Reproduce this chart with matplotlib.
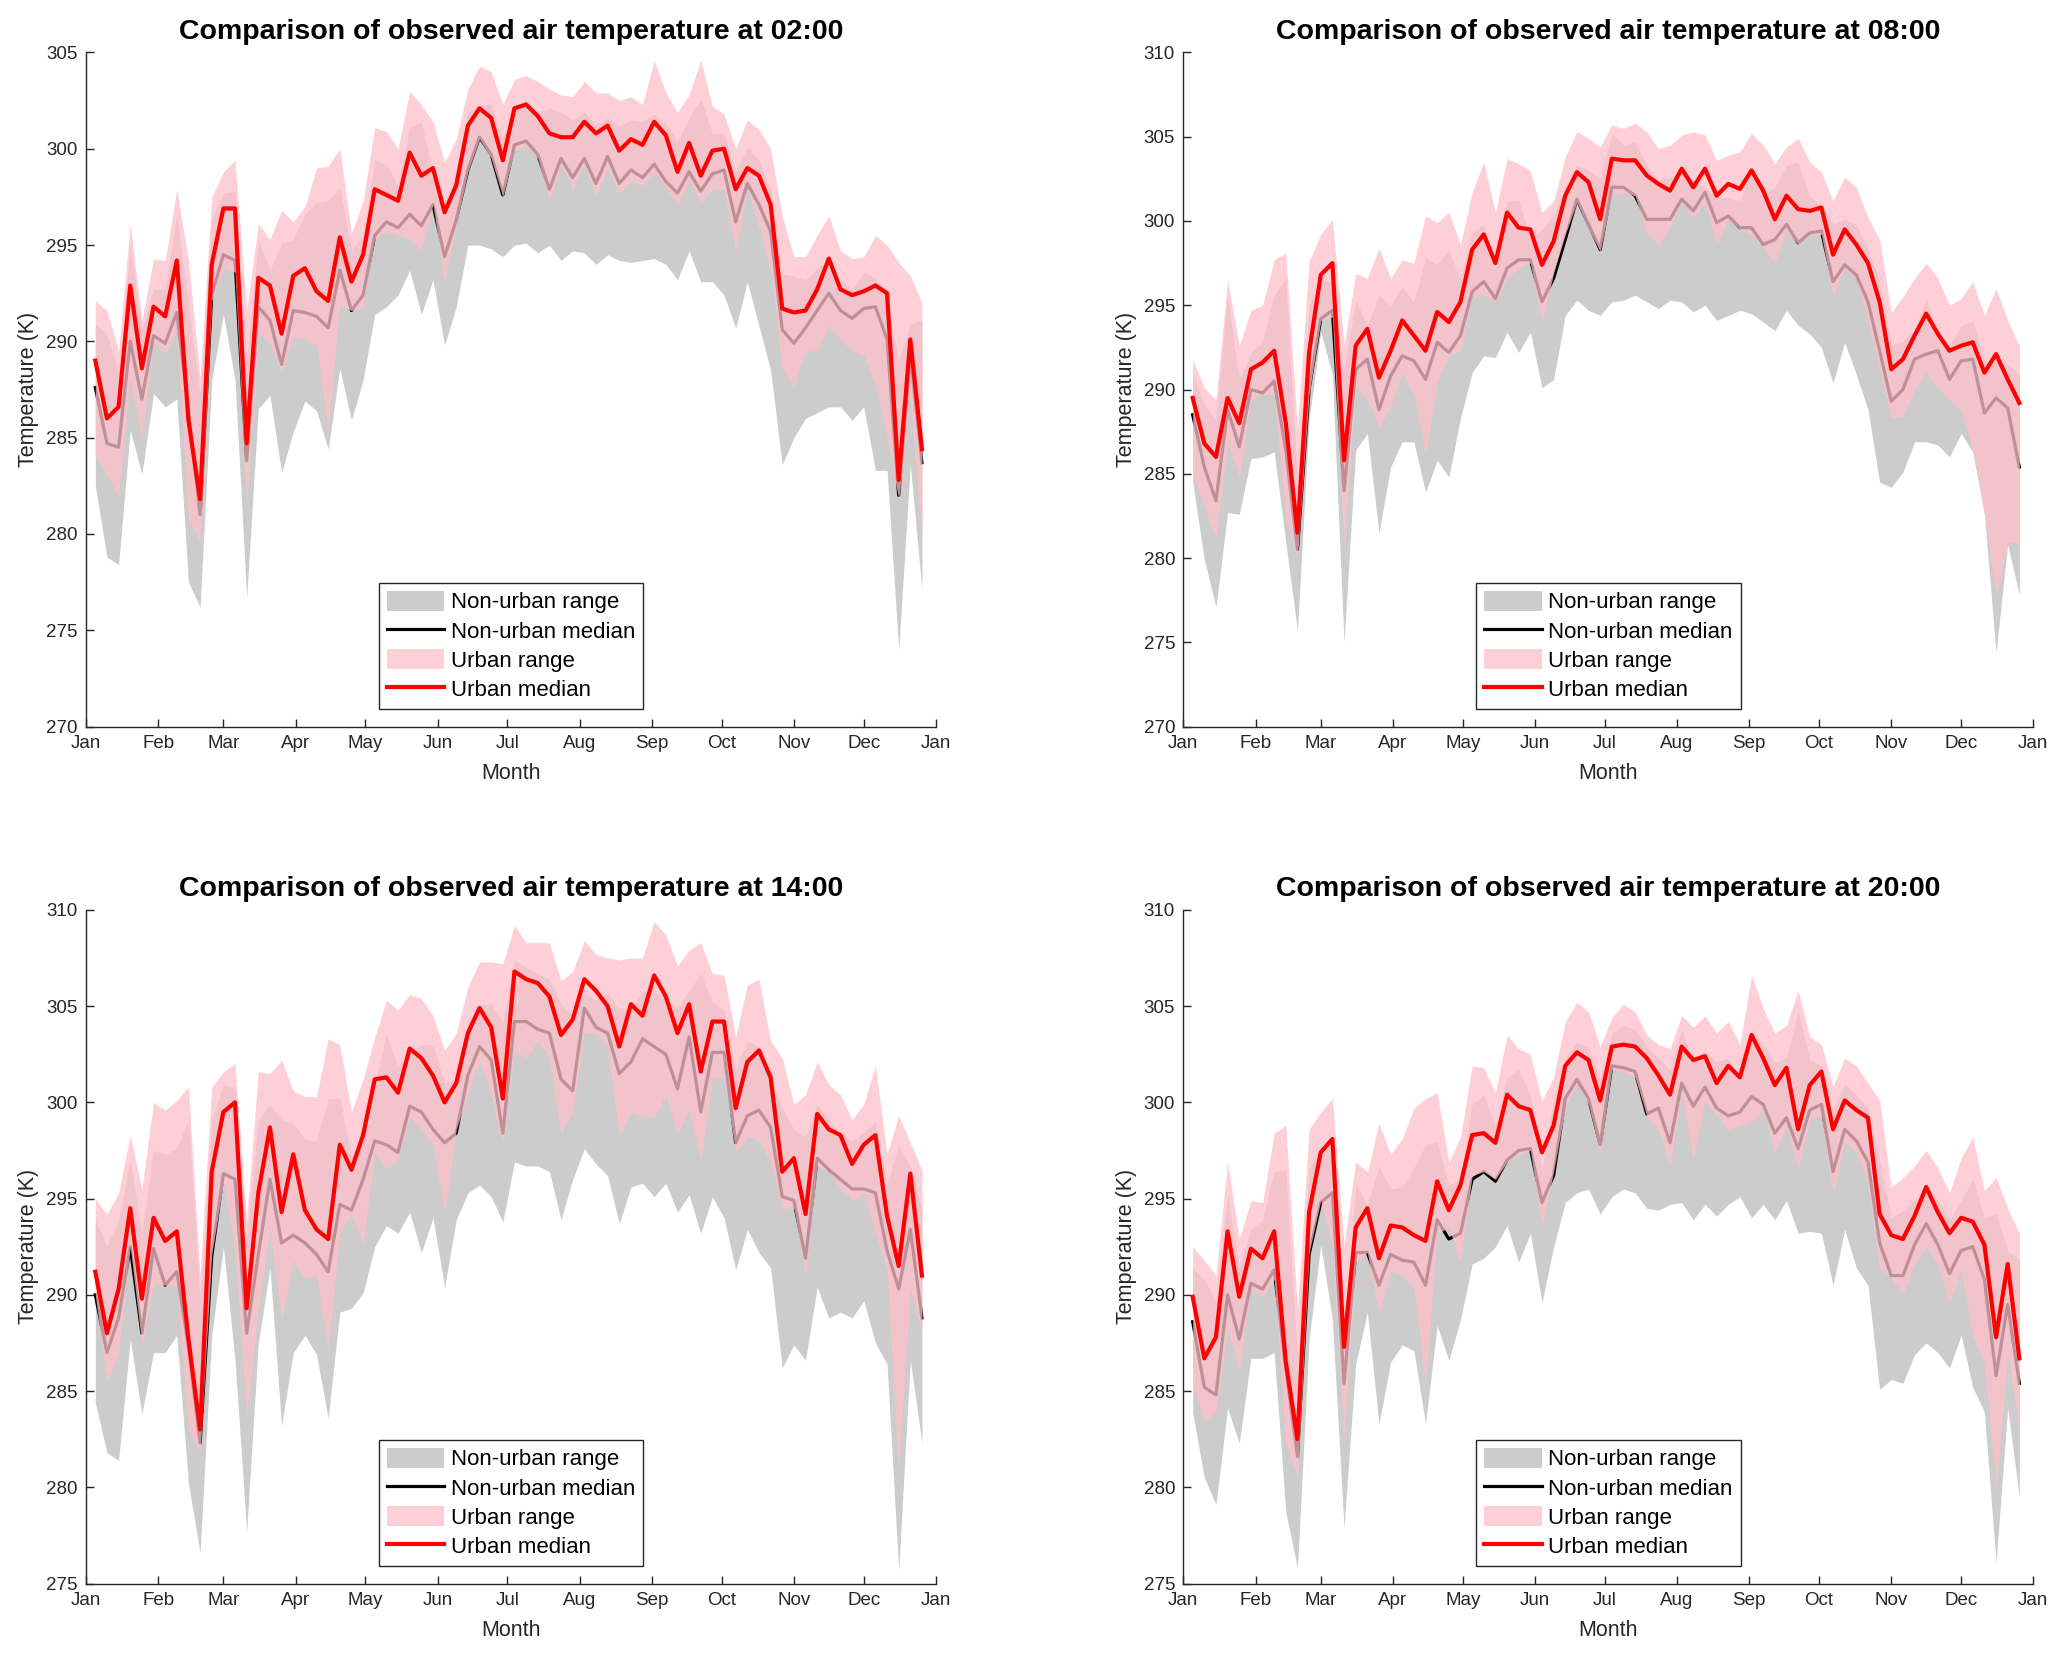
import numpy as np
import matplotlib.pyplot as plt

plt.rcParams["font.family"] = ["Liberation Sans", "DejaVu Sans"]

# pentad centres (day of year), 72 per year
days = np.arange(72) * 5 + 4

month_starts = [0, 31, 59, 90, 120, 151, 181, 212, 243, 273, 304, 334, 365]
month_labels = ["Jan", "Feb", "Mar", "Apr", "May", "Jun", "Jul",
                "Aug", "Sep", "Oct", "Nov", "Dec", "Jan"]

hours = ["02:00", "08:00", "14:00", "20:00"]
ylims = [(270, 305), (270, 310), (275, 310), (275, 310)]

# ---- 02:00 ----
u_med_02 = [289.0, 286.0, 286.6, 292.9, 288.6, 291.8, 291.3, 294.2, 285.9, 281.8, 294.0, 296.9, 296.9, 284.7,
            293.3, 292.9, 290.4, 293.4, 293.8, 292.6, 292.1, 295.4, 293.1, 294.5, 297.9, 297.6, 297.3, 299.8,
            298.6, 299.0, 296.7, 298.1, 301.2, 302.1, 301.6, 299.4, 302.1,
            302.3, 301.7, 300.8, 300.6, 300.6, 301.4, 300.8, 301.2, 299.9, 300.5, 300.2, 301.4, 300.7, 298.8,
            300.3, 298.6, 299.9, 300.0, 297.9, 299.0, 298.6, 297.1, 291.7, 291.5, 291.6, 292.7, 294.3, 292.7,
            292.4, 292.6, 292.9, 292.5, 282.8, 290.1, 284.4]
nu_med_02 = [287.6, 284.7, 284.5, 290.0, 287.0, 290.3, 289.9, 291.5, 286.4, 281.0, 292.4, 294.5, 294.2, 283.8,
             291.8, 291.1, 288.8, 291.6, 291.5, 291.3, 290.7, 293.7, 291.6, 292.4, 295.5, 296.2, 295.9, 296.6,
             296.0, 297.1, 294.4, 296.3, 298.9, 300.6, 299.7, 297.6, 300.2,
             300.4, 299.7, 297.9, 299.5, 298.5, 299.5, 298.2, 299.6, 298.2, 298.9, 298.5, 299.2, 298.3, 297.7,
             298.8, 297.8, 298.7, 298.9, 296.2, 298.2, 297.1, 295.7, 290.6, 289.9, 290.7, 291.6, 292.5, 291.6,
             291.2, 291.7, 291.8, 290.1, 282.0, 289.3, 283.7]
u_hi_02 = [292.1, 291.6, 289.5, 296.1, 291.1, 294.3, 294.2, 297.9, 294.2, 288.1, 297.5, 298.8, 299.4, 291.6,
           296.1, 295.3, 296.8, 296.2, 297.0, 299.0, 299.1, 300.0, 295.6, 297.3, 301.1, 300.9, 300.0, 303.0,
           302.3, 301.4, 299.3, 300.5, 303.1, 304.3, 304.0, 302.3, 303.6,
           303.8, 303.5, 303.1, 302.8, 302.7, 303.5, 302.9, 302.9, 302.5, 302.7, 302.3, 304.6, 302.9, 301.9,
           302.8, 304.6, 302.2, 301.8, 300.0, 301.5, 301.0, 300.0, 296.5, 294.4, 294.4, 295.5, 296.5, 294.7,
           294.3, 294.4, 295.5, 295.0, 294.1, 293.4, 292.0]
nu_hi_02 = [290.9, 290.4, 288.4, 295.0, 290.6, 292.7, 292.7, 296.6, 291.9, 287.2, 296.3, 297.7, 297.8, 289.0,
            295.3, 293.7, 295.1, 295.3, 296.6, 297.2, 297.3, 298.0, 294.7, 295.5, 299.4, 299.2, 298.1, 301.1,
            301.4, 298.8, 297.1, 298.9, 301.9, 302.3, 302.3, 300.5, 302.3,
            302.2, 301.9, 302.1, 301.9, 301.5, 301.9, 301.2, 301.6, 301.2, 301.5, 301.4, 301.8, 301.3, 300.4,
            301.6, 302.6, 300.8, 300.8, 298.8, 300.1, 299.4, 297.9, 293.5, 293.4, 293.2, 293.8, 294.3, 293.2,
            292.7, 293.6, 293.3, 292.2, 289.0, 290.9, 291.1]
u_lo_02 = [284.1, 283.1, 281.9, 288.0, 284.9, 289.9, 289.4, 290.5, 280.8, 279.6, 292.1, 293.8, 293.6, 281.4,
           290.5, 289.9, 288.4, 290.2, 290.1, 289.8, 285.4, 291.9, 291.6, 291.8, 295.3, 295.7, 295.5, 295.3,
           294.7, 297.1, 293.1, 296.0, 298.8, 300.5, 299.5, 297.5, 299.9,
           300.1, 299.5, 297.3, 299.2, 297.9, 299.2, 297.5, 299.0, 297.7, 298.3, 298.1, 298.8, 298.0, 297.1,
           298.3, 297.2, 297.9, 297.9, 294.6, 298.0, 295.9, 293.7, 288.6, 287.6, 289.5, 289.5, 290.8, 290.1,
           289.5, 289.3, 287.7, 285.1, 281.8, 287.0, 279.8]
nu_lo_02 = [282.5, 278.8, 278.4, 285.4, 283.1, 287.3, 286.6, 287.0, 277.5, 276.2, 288.0, 291.4, 288.0, 276.7,
            286.5, 287.2, 283.2, 285.3, 286.9, 286.4, 284.4, 288.6, 285.9, 288.0, 291.4, 291.8, 292.4, 293.7,
            291.4, 293.2, 289.8, 291.8, 295.0, 295.0, 294.8, 294.4, 295.0,
            295.1, 294.6, 295.0, 294.2, 294.7, 294.6, 294.0, 294.5, 294.2, 294.1, 294.2, 294.3, 294.0, 293.2,
            294.7, 293.1, 293.1, 292.4, 290.7, 293.1, 290.8, 288.5, 283.6, 285.0, 286.0, 286.3, 286.6, 286.6,
            285.9, 286.6, 283.3, 283.3, 274.0, 283.6, 277.1]

# ---- 08:00 ----
u_med_08 = [289.5, 286.8, 286.0, 289.5, 288.0, 291.2, 291.6, 292.3, 288.0, 281.5, 292.2, 296.8, 297.5, 285.8,
            292.6, 293.6, 290.7, 292.3, 294.1, 293.2, 292.3, 294.6, 294.0, 295.2, 298.3, 299.2, 297.5, 300.5,
            299.6, 299.5, 297.4, 298.8, 301.5, 302.9, 302.3, 300.1, 303.7,
            303.6, 303.6, 302.7, 302.2, 301.8, 303.1, 302.0, 303.1, 301.5, 302.2, 301.9, 303.0, 301.8, 300.1,
            301.5, 300.7, 300.6, 300.8, 298.0, 299.5, 298.6, 297.5, 295.2, 291.2, 291.8, 293.2, 294.5, 293.3,
            292.3, 292.6, 292.8, 291.0, 292.1, 290.6, 289.2]
nu_med_08 = [288.5, 285.4, 283.4, 288.8, 286.6, 290.0, 289.8, 290.5, 286.4, 280.5, 290.0, 294.2, 294.7, 284.0,
             291.2, 291.8, 288.8, 290.8, 292.0, 291.7, 290.6, 292.8, 292.2, 293.2, 295.8, 296.4, 295.4, 297.2,
             297.7, 297.7, 295.2, 296.6, 298.9, 301.3, 299.8, 298.3, 302.0,
             302.0, 301.5, 300.1, 300.1, 300.1, 301.3, 300.6, 301.7, 299.9, 300.3, 299.6, 299.6, 298.6, 298.9,
             299.8, 298.7, 299.3, 299.4, 296.4, 297.4, 296.8, 295.2, 292.3, 289.3, 290.0, 291.8, 292.1, 292.3,
             290.6, 291.7, 291.8, 288.6, 289.5, 288.9, 285.4]
u_hi_08 = [291.8, 290.1, 289.4, 296.5, 292.6, 294.7, 295.0, 297.7, 298.1, 287.6, 297.6, 299.2, 300.1, 292.6,
           296.9, 296.6, 298.4, 296.6, 297.7, 297.5, 300.3, 299.9, 300.5, 298.6, 301.7, 303.5, 300.5, 303.7,
           303.4, 303.0, 300.5, 301.2, 303.8, 305.3, 304.9, 304.4, 305.7,
           305.5, 305.8, 305.3, 304.3, 304.5, 305.1, 305.3, 305.1, 303.6, 303.9, 304.1, 305.2, 304.5, 303.4,
           304.4, 304.9, 303.5, 302.9, 301.2, 302.6, 302.0, 300.2, 298.9, 294.6, 295.5, 296.6, 297.5, 296.6,
           295.0, 295.4, 296.4, 294.4, 296.0, 294.1, 292.6]
nu_hi_08 = [291.0, 289.1, 288.2, 295.6, 290.6, 292.2, 292.8, 295.6, 296.6, 284.6, 295.0, 296.6, 296.3, 291.2,
            295.3, 293.8, 295.6, 295.0, 296.1, 295.2, 297.8, 297.4, 298.3, 296.5, 299.3, 299.8, 297.1, 301.2,
            301.2, 299.0, 299.5, 300.4, 302.0, 303.3, 303.0, 302.5, 305.2,
            304.5, 304.7, 303.3, 302.4, 302.6, 303.0, 302.4, 302.0, 301.4, 301.4, 301.2, 303.0, 301.5, 302.0,
            303.3, 303.5, 301.5, 300.9, 299.8, 300.1, 299.8, 298.3, 296.5, 292.6, 292.9, 293.5, 295.4, 293.5,
            292.6, 293.8, 294.1, 291.7, 291.7, 291.5, 290.9]
u_lo_08 = [285.2, 283.0, 281.2, 286.9, 284.8, 289.4, 289.7, 289.7, 282.3, 280.0, 289.7, 294.1, 294.3, 280.8,
           290.2, 289.4, 287.7, 289.0, 291.0, 289.7, 286.1, 290.4, 292.0, 292.3, 295.5, 295.6, 295.2, 296.6,
           297.2, 297.5, 294.0, 296.9, 299.2, 301.1, 299.5, 298.2, 301.5,
           301.7, 301.5, 299.2, 298.6, 299.6, 301.1, 300.2, 301.1, 298.6, 300.1, 299.5, 299.2, 298.4, 297.5,
           299.4, 298.6, 299.2, 299.2, 295.5, 297.2, 296.5, 294.1, 291.2, 288.3, 288.4, 290.0, 291.0, 290.1,
           289.4, 288.8, 286.4, 282.6, 277.7, 280.9, 280.9]
nu_lo_08 = [284.5, 279.9, 277.1, 282.7, 282.6, 285.9, 286.0, 286.3, 280.9, 275.7, 288.2, 293.4, 290.9, 275.0,
            286.4, 287.4, 281.5, 285.4, 286.9, 286.9, 283.9, 285.8, 284.8, 288.3, 291.0, 292.0, 291.9, 293.4,
            292.2, 293.4, 290.1, 290.6, 294.4, 295.3, 294.7, 294.4, 295.2,
            295.3, 295.6, 295.2, 294.8, 295.3, 295.2, 294.6, 295.0, 294.1, 294.4, 294.7, 294.5, 294.0, 293.5,
            294.7, 293.8, 293.3, 292.5, 290.4, 292.8, 290.9, 288.8, 284.5, 284.2, 285.1, 286.9, 286.9, 286.7,
            286.0, 287.4, 286.3, 282.6, 274.4, 280.8, 277.8]

# ---- 14:00 ----
u_med_14 = [291.2, 288.0, 290.3, 294.5, 289.8, 294.0, 292.8, 293.3, 287.7, 283.0, 296.4, 299.5, 300.0, 289.3,
            295.3, 298.7, 294.3, 297.3, 294.4, 293.4, 292.9, 297.8, 296.5, 298.3, 301.2, 301.3, 300.5, 302.8,
            302.3, 301.4, 300.0, 301.0, 303.6, 304.9, 303.9, 300.2, 306.8,
            306.4, 306.2, 305.5, 303.5, 304.3, 306.4, 305.8, 305.0, 302.9, 305.1, 304.5, 306.6, 305.5, 303.6,
            305.1, 301.6, 304.2, 304.2, 299.7, 302.1, 302.7, 301.3, 296.4, 297.1, 294.2, 299.4, 298.6, 298.3,
            296.8, 297.8, 298.3, 294.1, 291.5, 296.3, 291.0]
nu_med_14 = [290.0, 287.0, 288.8, 292.5, 288.0, 292.4, 290.5, 291.2, 287.3, 282.3, 292.0, 296.3, 296.0, 288.0,
             292.1, 296.0, 292.7, 293.1, 292.7, 292.1, 291.2, 294.7, 294.4, 296.0, 298.0, 297.8, 297.4, 299.8,
             299.5, 298.6, 297.9, 298.4, 301.4, 302.9, 302.2, 298.4, 304.2,
             304.2, 303.8, 303.6, 301.2, 300.6, 304.9, 303.9, 303.6, 301.5, 302.1, 303.3, 302.9, 302.5, 300.7,
             303.4, 299.5, 302.6, 302.6, 297.9, 299.3, 299.6, 298.7, 295.1, 294.9, 291.9, 297.1, 296.5, 296.0,
             295.5, 295.5, 295.3, 292.3, 290.3, 293.4, 288.8]
u_hi_14 = [295.0, 294.2, 295.3, 298.3, 295.5, 300.0, 299.6, 300.1, 300.8, 291.0, 300.8, 301.6, 302.0, 293.9,
           301.6, 301.5, 302.2, 300.6, 300.3, 300.3, 303.3, 303.0, 299.5, 301.2, 303.4, 305.3, 304.8, 305.6,
           305.4, 304.5, 302.7, 303.6, 306.0, 307.3, 307.3, 307.2, 309.2,
           308.3, 308.3, 308.3, 306.3, 306.8, 308.4, 307.7, 307.5, 307.4, 307.5, 307.5, 309.4, 308.7, 307.1,
           307.9, 308.3, 306.7, 306.6, 303.4, 306.1, 306.4, 303.2, 302.3, 299.9, 300.4, 302.1, 300.9, 300.4,
           299.1, 299.9, 301.9, 297.3, 299.3, 297.9, 296.5]
nu_hi_14 = [293.9, 292.5, 293.9, 297.0, 293.2, 297.5, 297.3, 297.6, 299.1, 289.7, 299.1, 300.9, 300.8, 292.9,
            299.1, 299.9, 299.1, 298.9, 298.1, 298.0, 300.2, 300.2, 297.2, 298.0, 301.0, 303.5, 301.9, 302.6,
            303.0, 303.0, 301.0, 301.2, 304.2, 305.1, 305.1, 304.2, 307.4,
            307.0, 306.7, 306.4, 305.1, 304.5, 305.7, 305.3, 305.7, 304.9, 304.9, 305.8, 305.8, 305.4, 304.9,
            305.8, 306.7, 305.2, 304.8, 301.7, 303.2, 302.9, 301.2, 299.7, 298.6, 298.2, 299.9, 299.1, 298.4,
            298.0, 298.4, 299.0, 295.7, 297.8, 296.7, 294.4]
u_lo_14 = [290.0, 285.4, 287.0, 292.5, 287.4, 290.6, 290.5, 290.4, 283.0, 281.8, 292.1, 295.8, 292.3, 283.7,
           289.2, 293.4, 288.7, 291.8, 290.8, 291.0, 287.1, 293.2, 294.2, 292.6, 297.4, 296.5, 297.0, 299.2,
           298.6, 297.8, 294.2, 298.6, 300.4, 302.2, 300.3, 297.8, 302.7,
           302.3, 303.2, 302.3, 298.4, 299.5, 303.6, 303.6, 302.9, 298.2, 299.5, 299.3, 299.2, 300.4, 298.3,
           299.6, 297.0, 301.2, 301.3, 297.4, 298.2, 298.0, 296.9, 294.5, 294.5, 291.0, 296.7, 296.4, 295.5,
           294.9, 295.3, 293.2, 291.3, 280.8, 290.3, 288.0]
nu_lo_14 = [284.4, 281.8, 281.4, 287.7, 283.8, 287.0, 287.0, 287.9, 280.2, 276.6, 287.9, 292.5, 286.6, 277.7,
            287.5, 291.4, 283.2, 287.0, 287.9, 286.9, 283.6, 289.1, 289.3, 290.1, 292.5, 293.6, 293.2, 294.3,
            292.2, 294.0, 290.4, 293.9, 295.3, 295.7, 295.1, 293.8, 296.9,
            296.7, 296.7, 296.4, 293.9, 296.0, 297.6, 296.8, 296.2, 293.7, 295.6, 295.8, 295.1, 295.8, 294.3,
            295.2, 293.2, 295.1, 294.0, 291.3, 293.4, 292.2, 291.4, 286.2, 287.4, 286.6, 290.4, 288.8, 289.1,
            288.8, 289.7, 287.5, 286.4, 275.7, 286.6, 282.3]

# ---- 20:00 ----
u_med_20 = [289.9, 286.7, 287.8, 293.3, 289.9, 292.4, 291.9, 293.3, 286.5, 282.5, 294.3, 297.4, 298.1, 287.3,
            293.5, 294.5, 291.9, 293.6, 293.5, 293.1, 292.8, 295.9, 294.4, 295.7, 298.3, 298.4, 297.9, 300.4,
            299.8, 299.6, 297.4, 298.8, 301.9, 302.6, 302.2, 300.1, 302.9,
            303.0, 302.9, 302.3, 301.4, 300.4, 302.9, 302.2, 302.4, 301.0, 301.9, 301.3, 303.5, 302.3, 300.9,
            301.8, 298.6, 300.9, 301.6, 298.6, 300.1, 299.6, 299.2, 294.2, 293.1, 292.9, 294.1, 295.6, 294.3,
            293.2, 294.0, 293.8, 292.6, 287.8, 291.6, 286.7]
nu_med_20 = [288.6, 285.2, 284.8, 290.0, 287.7, 290.6, 290.3, 291.3, 286.2, 281.6, 292.1, 294.8, 295.3, 285.4,
             292.2, 292.2, 290.5, 292.1, 291.8, 291.7, 290.5, 293.9, 292.9, 293.2, 296.0, 296.4, 295.9, 297.0,
             297.5, 297.6, 294.8, 296.2, 300.2, 301.2, 300.2, 297.8, 301.9,
             301.8, 301.6, 299.4, 299.7, 297.9, 301.0, 299.8, 300.8, 299.7, 299.3, 299.5, 300.3, 299.9, 298.4,
             299.2, 297.6, 299.6, 299.9, 296.4, 298.6, 298.0, 296.9, 292.7, 291.0, 291.0, 292.6, 293.7, 292.6,
             291.1, 292.3, 292.5, 290.8, 285.8, 289.5, 285.4]
u_hi_20 = [292.5, 291.8, 291.0, 296.9, 292.9, 294.9, 294.8, 298.4, 298.8, 289.2, 298.6, 299.5, 300.2, 292.6,
           296.9, 296.4, 298.9, 297.3, 298.1, 299.7, 300.2, 300.5, 296.9, 298.2, 301.9, 301.8, 300.5, 303.5,
           302.8, 302.5, 300.1, 301.3, 304.2, 305.2, 304.7, 302.9, 304.4,
           305.1, 304.7, 303.5, 303.0, 302.8, 304.5, 303.9, 304.5, 303.6, 304.2, 303.0, 306.6, 304.9, 303.6,
           304.0, 305.8, 303.4, 303.0, 300.8, 302.3, 301.9, 301.0, 300.1, 295.6, 296.1, 296.7, 297.5, 296.6,
           295.3, 297.1, 298.2, 295.4, 296.1, 294.5, 293.2]
nu_hi_20 = [291.4, 290.8, 289.7, 295.2, 291.4, 293.4, 293.9, 296.4, 296.5, 286.7, 296.5, 297.7, 297.7, 287.1,
            295.8, 294.7, 296.7, 295.5, 295.6, 296.6, 297.8, 298.0, 295.7, 296.0, 299.9, 300.4, 298.7, 301.3,
            301.7, 300.4, 296.5, 300.2, 302.3, 303.1, 302.9, 301.2, 303.6,
            304.0, 303.8, 302.9, 302.3, 301.7, 303.8, 302.2, 302.7, 302.1, 302.3, 301.3, 303.8, 303.0, 302.1,
            302.3, 304.8, 302.2, 301.9, 299.6, 301.0, 300.4, 299.7, 297.0, 294.0, 294.4, 294.9, 295.7, 294.9,
            293.9, 294.9, 296.0, 294.0, 294.2, 292.3, 291.8]
u_lo_20 = [285.4, 283.4, 283.9, 288.2, 286.1, 290.3, 289.9, 290.8, 282.3, 280.5, 292.2, 294.9, 292.5, 282.6,
           291.7, 292.2, 289.0, 291.2, 291.0, 290.4, 285.4, 293.2, 293.5, 291.7, 296.2, 296.4, 296.0, 296.9,
           297.3, 297.5, 293.6, 296.4, 299.7, 301.0, 299.9, 297.3, 301.7,
           301.6, 301.3, 299.3, 298.6, 296.7, 300.5, 297.0, 300.1, 299.3, 298.6, 298.8, 299.0, 299.6, 297.4,
           298.8, 296.5, 299.1, 299.3, 295.2, 298.0, 297.4, 295.7, 291.4, 290.9, 290.0, 291.6, 292.5, 291.6,
           289.6, 291.3, 287.9, 286.4, 280.0, 286.9, 283.0]
nu_lo_20 = [283.9, 280.5, 279.1, 284.1, 282.3, 286.7, 286.7, 287.0, 278.7, 275.8, 287.7, 292.6, 288.7, 277.9,
            286.4, 289.1, 283.3, 286.5, 287.4, 287.1, 283.3, 288.4, 286.6, 288.7, 291.6, 291.9, 292.5, 293.6,
            291.7, 293.2, 289.6, 292.5, 294.8, 295.3, 295.5, 294.2, 295.1,
            295.5, 295.3, 294.5, 294.4, 294.7, 294.8, 293.9, 294.7, 294.1, 294.7, 295.1, 294.0, 294.7, 293.9,
            294.9, 293.2, 293.3, 293.2, 290.5, 293.4, 291.4, 290.5, 285.1, 285.6, 285.4, 286.9, 287.5, 287.0,
            286.2, 287.9, 285.2, 283.9, 276.1, 284.1, 279.5]

panels = [
    (nu_lo_02, nu_hi_02, nu_med_02, u_lo_02, u_hi_02, u_med_02),
    (nu_lo_08, nu_hi_08, nu_med_08, u_lo_08, u_hi_08, u_med_08),
    (nu_lo_14, nu_hi_14, nu_med_14, u_lo_14, u_hi_14, u_med_14),
    (nu_lo_20, nu_hi_20, nu_med_20, u_lo_20, u_hi_20, u_med_20),
]

axis_col = "#262626"
positions = [
    [0.0416, 0.561, 0.4112, 0.4073],
    [0.5725, 0.561, 0.4112, 0.4073],
    [0.0416, 0.0432, 0.4112, 0.4070],
    [0.5725, 0.0432, 0.4112, 0.4070],
]

fig = plt.figure(figsize=(20.67, 16.55), dpi=100)

for pos, hour, ylim, (nlo, nhi, nmed, ulo, uhi, umed) in zip(positions, hours, ylims, panels):
    ax = fig.add_axes(pos)
    # draw order matters: the urban band is laid over the non-urban median
    ax.fill_between(days, nlo, nhi, color="#cccccc", lw=0, zorder=1,
                    label="Non-urban range")
    ax.plot(days, nmed, color="black", lw=2.3, zorder=2, label="Non-urban median")
    ax.fill_between(days, ulo, uhi, color="pink", alpha=0.75, lw=0, zorder=3,
                    label="Urban range")
    ax.plot(days, umed, color="red", lw=3.0, zorder=4, label="Urban median")

    ax.set_xlim(0, 365)
    ax.set_ylim(*ylim)
    ax.set_xticks(month_starts)
    ax.set_xticklabels(month_labels)
    ax.set_yticks(np.arange(ylim[0], ylim[1] + 1, 5))

    for side in ["top", "right"]:
        ax.spines[side].set_visible(False)
    for side in ["left", "bottom"]:
        ax.spines[side].set_color(axis_col)
        ax.spines[side].set_linewidth(1.0)
        ax.spines[side].set_zorder(5)
    ax.tick_params(direction="in", length=6, width=1.0, colors=axis_col,
                   labelsize=13.5, pad=6)

    ax.set_xlabel("Month", fontsize=15.5, color=axis_col, labelpad=8)
    ax.set_ylabel("Temperature (K)", fontsize=15.5, color=axis_col, labelpad=5)
    ax.set_title("Comparison of observed air temperature at " + hour,
                 fontsize=20.5, fontweight="bold", pad=10)

    leg = ax.legend(loc="lower center", fontsize=16, frameon=True, fancybox=False,
                    edgecolor=axis_col, framealpha=1, borderpad=0.35,
                    labelspacing=0.3, handlelength=2.6, handleheight=1.0,
                    handletextpad=0.3, borderaxespad=0.8)
    leg.get_frame().set_linewidth(1.0)
    leg.set_zorder(10)

fig.savefig("out.png", dpi=100)
